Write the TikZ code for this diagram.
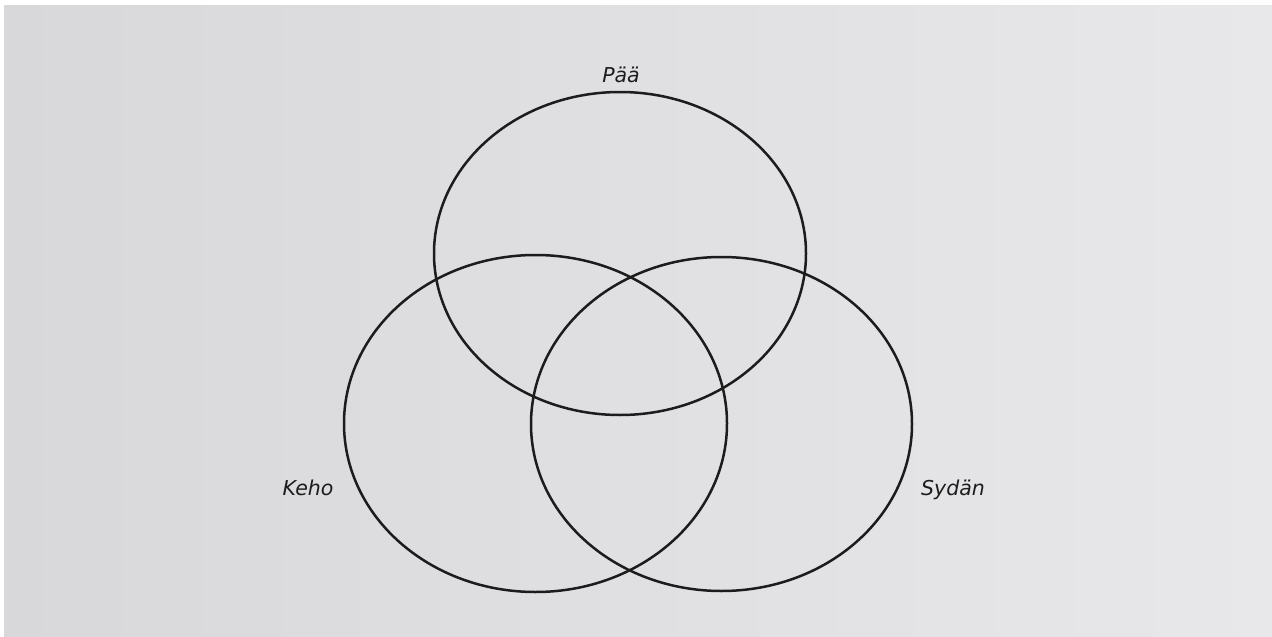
\documentclass[tikz,border=0pt]{standalone}
\usepackage{fontspec}
\setmainfont{DejaVu Sans}
\usetikzlibrary{shapes.geometric}
\definecolor{paperL}{RGB}{216,216,218}
\definecolor{paperR}{RGB}{232,232,234}
\definecolor{inkc}{RGB}{28,28,28}
\tikzset{
  set/.style={draw=inkc, line width=2.5pt, ellipse, inner sep=0pt, fill=none},
  lbl/.style={anchor=base, text=inkc, font=\fontsize{20.5}{24}\selectfont\itshape, inner sep=0pt}
}
\begin{document}
\begin{tikzpicture}[x=1pt,y=-1pt]
\useasboundingbox (0,0) rectangle (1272,637);
\fill[white] (0,0) rectangle (1272,637);
\shade[left color=paperL, right color=paperR] (4,5) rectangle (1272,637);
\node[set, minimum width=372pt, minimum height=323pt] (paa) at (620,253.5) {};
\node[set, minimum width=383pt, minimum height=337pt] (keho) at (535.5,423.5) {};
\node[set, minimum width=381pt, minimum height=334pt] (sydan) at (721.5,424) {};
\node[lbl] (lpaa) at (621,82) {Pää};
\node[lbl] (lkeho) at (308,495) {Keho};
\node[lbl] (lsydan) at (953,495) {Sydän};
\end{tikzpicture}
\end{document}
